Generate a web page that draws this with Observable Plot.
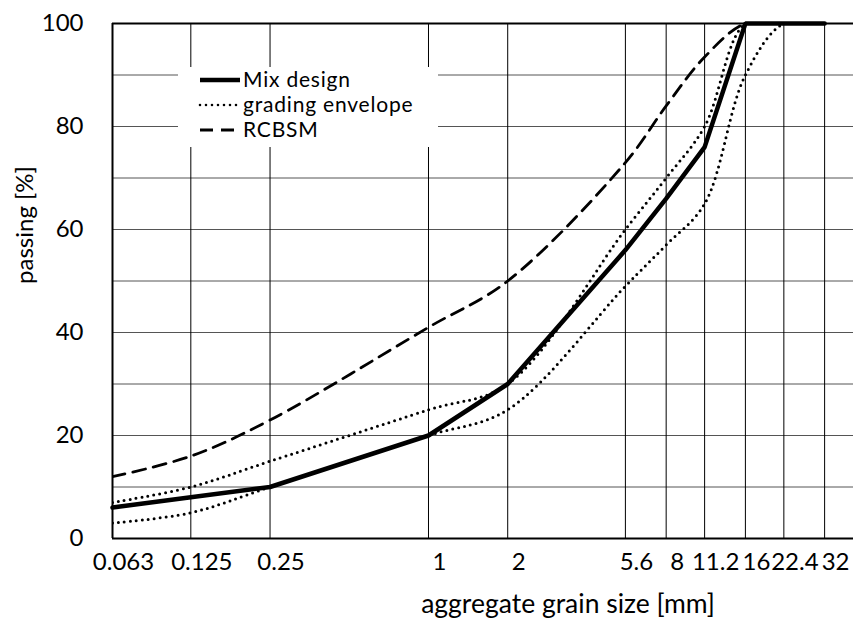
<!DOCTYPE html>
<html>
<head>
<meta charset="utf-8">
<script src="https://cdn.jsdelivr.net/npm/d3@7"></script>
<script src="https://cdn.jsdelivr.net/npm/@observablehq/plot@0.6"></script>
<style>
  html, body { margin: 0; padding: 0; background: #fff; }
  #chart { width: 853px; height: 619px; }
</style>
</head>
<body>
<div id="chart"></div>
<script>
// grain sizes (mm) – tick positions & sieve sizes
const sizes = [0.063, 0.125, 0.25, 1, 2, 5.6, 8, 11.2, 16, 22.4, 32];
const sizeLabels = ["0.063", "0.125", "0.25", "1", "2", "5.6", "8", "11.2", "16", "22.4", "32"];
// passing [%]
const mixDesign = [6, 8, 10, 20, 30, 56, 66, 76, 100, 100, 100];
const envelopeUpper = [7, 10, 15, 25, 30, 60, 70, 80, 100, 100, 100];
const envelopeLower = [3, 5, 10, 20, 25, 49, 57, 65, 90, 100, 100];
const rcbsm = [12, 16, 23, 41, 50, 73, 84, 93.5, 100, 100, 100];
const yTicks = [0, 20, 40, 60, 80, 100];
const yGrid = [10, 20, 30, 40, 50, 60, 70, 80, 90];
const legendItems = ["Mix design", "grading envelope", "RCBSM"];

const toRows = (vals) => sizes.map((s, i) => ({size: s, pass: vals[i]}));
const tickRows = sizes.map((s, i) => ({size: s, label: sizeLabels[i]}));

const FONT = "Lato, 'Open Sans', sans-serif";

const plot = Plot.plot({
  width: 853,
  height: 619,
  marginLeft: 112,
  marginRight: 0,
  marginTop: 23,
  marginBottom: 81,
  style: {fontFamily: FONT, fontSize: "24px", background: "#fff", color: "#000", overflow: "visible"},
  x: {type: "log", domain: [0.063, 41.2], label: null, axis: null},
  y: {domain: [0, 100], label: null},
  marks: [
    Plot.ruleY(yGrid, {stroke: "#555", strokeWidth: 1}),
    Plot.ruleX(sizes.slice(1), {stroke: "#000", strokeWidth: 1}),
    Plot.line(toRows(envelopeUpper), {x: "size", y: "pass", curve: "catmull-rom", clip: true, stroke: "#000", strokeWidth: 3, strokeDasharray: "0 6", strokeLinecap: "round"}),
    Plot.line(toRows(envelopeLower), {x: "size", y: "pass", curve: "catmull-rom", clip: true, stroke: "#000", strokeWidth: 3, strokeDasharray: "0 6", strokeLinecap: "round"}),
    Plot.line(toRows(rcbsm), {x: "size", y: "pass", curve: "catmull-rom", clip: true, stroke: "#000", strokeWidth: 2.8, strokeDasharray: "13 8"}),
    Plot.line(toRows(mixDesign), {x: "size", y: "pass", stroke: "#000", strokeWidth: 4.5, strokeLinejoin: "miter"}),
    Plot.ruleX([0.063], {stroke: "#000", strokeWidth: 2}),
    Plot.ruleY([0], {stroke: "#000", strokeWidth: 2}),
    Plot.ruleY([100], {stroke: "#000", strokeWidth: 2}),
    Plot.text(tickRows, {x: "size", frameAnchor: "bottom", dy: 24, dx: 11, text: "label", fontSize: 24, lineAnchor: "middle"}),
    Plot.axisY(yTicks, {tickSize: 0, tickPadding: 29, fontSize: 24, label: null}),
    Plot.text(["aggregate grain size [mm]"], {frameAnchor: "bottom", dy: 66, dx: 85, fontSize: 26.5, lineAnchor: "middle", text: d => d}),
    Plot.text(["passing [%]"], {frameAnchor: "left", dx: -87, dy: -56, rotate: -90, fontSize: 24, lineAnchor: "middle", textAnchor: "middle", text: d => d})
  ]
});

document.getElementById("chart").appendChild(plot);

// legend (white box inside the plot area, upper left)
const svg = d3.select(plot);
const lg = svg.append("g").attr("font-family", FONT).attr("font-size", 21).attr("letter-spacing", "0.8px").attr("text-anchor", "start");
lg.append("rect").attr("x", 178).attr("y", 67).attr("width", 260).attr("height", 80).attr("fill", "#fff");
const styles = [
  {w: 4.5, dash: null, cap: "butt"},
  {w: 2.6, dash: "0 6", cap: "round"},
  {w: 2.8, dash: "13 8", cap: "butt"}
];
legendItems.forEach((name, i) => {
  const cy = 80 + i * 25;
  const st = styles[i];
  const ln = lg.append("line").attr("x1", 200).attr("x2", 240).attr("y1", cy).attr("y2", cy)
    .attr("stroke", "#000").attr("stroke-width", st.w).attr("stroke-linecap", st.cap);
  if (st.dash) ln.attr("stroke-dasharray", st.dash);
  lg.append("text").attr("x", 243).attr("y", cy).attr("dy", "0.35em").attr("fill", "#000").text(name);
});
</script>
</body>
</html>
